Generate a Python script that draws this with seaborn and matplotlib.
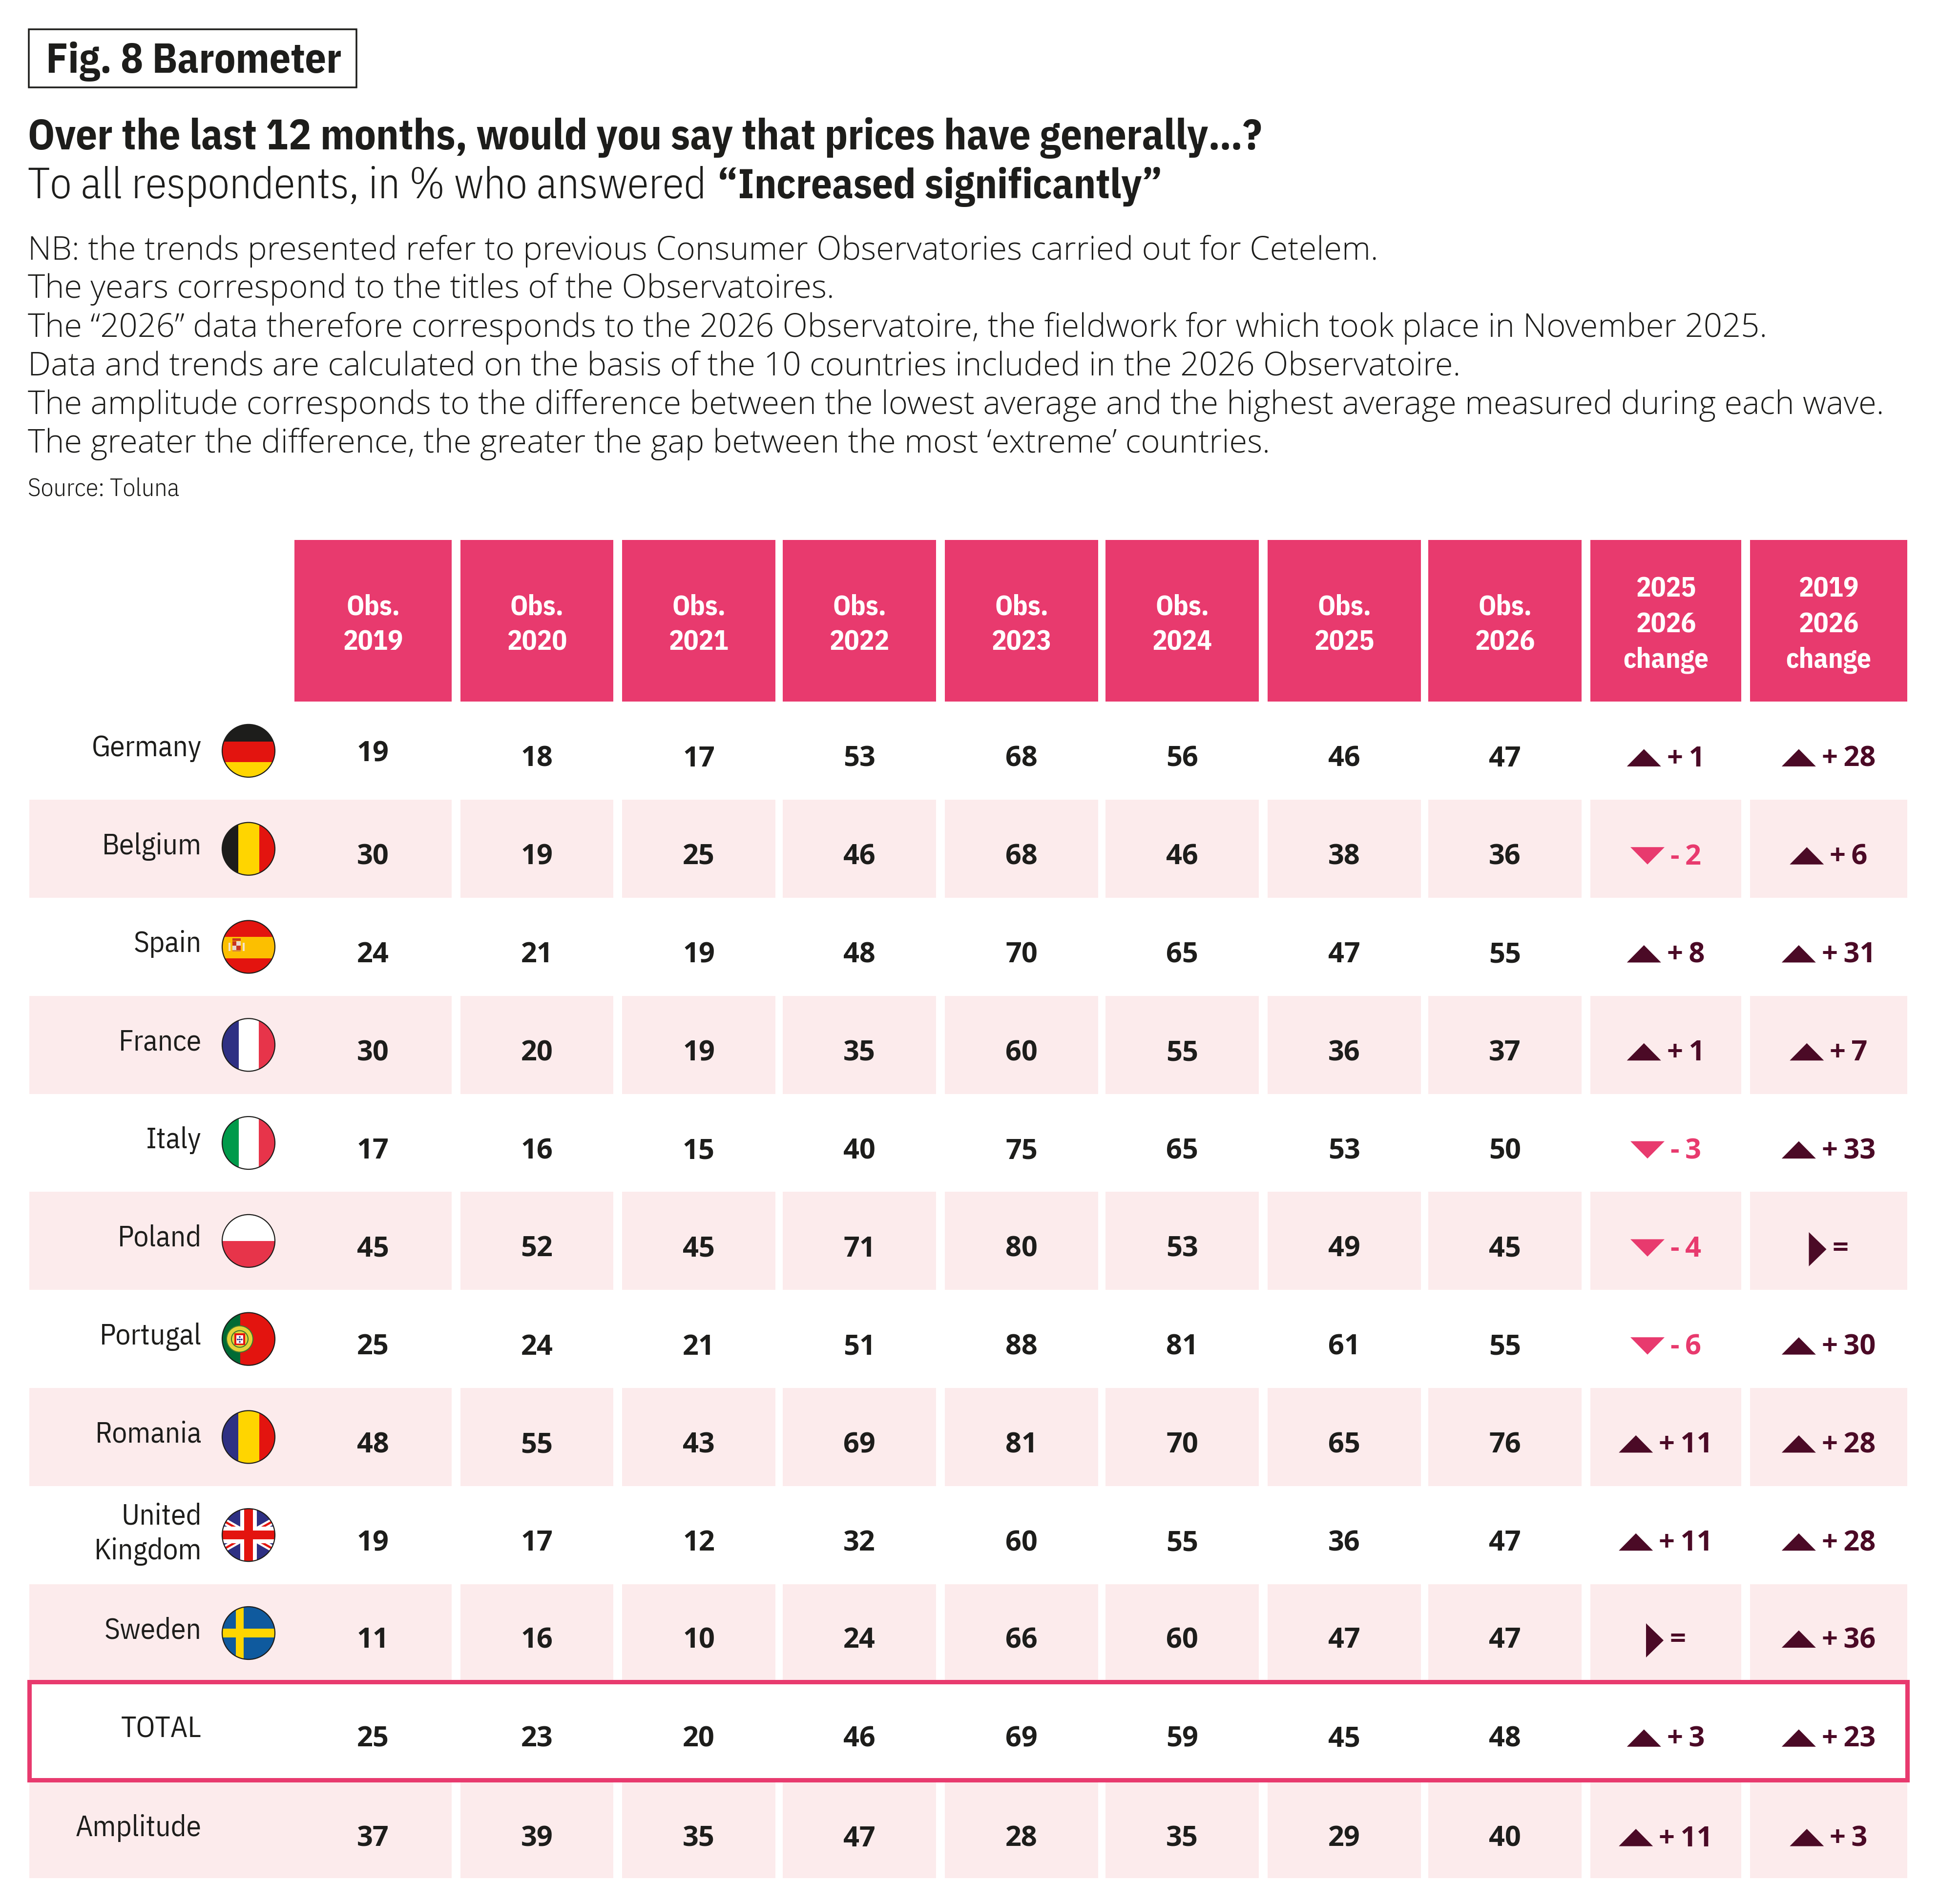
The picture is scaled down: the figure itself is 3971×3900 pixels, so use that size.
import numpy as np
import pandas as pd
import seaborn as sns
import matplotlib
matplotlib.use("Agg")
import matplotlib.pyplot as plt
from matplotlib.colors import ListedColormap
from matplotlib.patches import Circle, Rectangle, Polygon

# ---------- data ----------
countries = ["Germany", "Belgium", "Spain", "France", "Italy", "Poland", "Portugal",
             "Romania", "United\nKingdom", "Sweden", "TOTAL", "Amplitude"]
obs_2019 = [19, 30, 24, 30, 17, 45, 25, 48, 19, 11, 25, 37]
obs_2020 = [18, 19, 21, 20, 16, 52, 24, 55, 17, 16, 23, 39]
obs_2021 = [17, 25, 19, 19, 15, 45, 21, 43, 12, 10, 20, 35]
obs_2022 = [53, 46, 48, 35, 40, 71, 51, 69, 32, 24, 46, 47]
obs_2023 = [68, 68, 70, 60, 75, 80, 88, 81, 60, 66, 69, 28]
obs_2024 = [56, 46, 65, 55, 65, 53, 81, 70, 55, 60, 59, 35]
obs_2025 = [46, 38, 47, 36, 53, 49, 61, 65, 36, 47, 45, 29]
obs_2026 = [47, 36, 55, 37, 50, 45, 55, 76, 47, 47, 48, 40]
change_25_26 = [1, -2, 8, 1, -3, -4, -6, 11, 11, 0, 3, 11]
change_19_26 = [28, 6, 31, 7, 33, 0, 30, 28, 28, 36, 23, 3]
obs_headers = ["Obs.\n2019", "Obs.\n2020", "Obs.\n2021", "Obs.\n2022",
               "Obs.\n2023", "Obs.\n2024", "Obs.\n2025", "Obs.\n2026"]
change_headers = ["2025\n2026\nchange", "2019\n2026\nchange"]
band = [0, 1, 0, 1, 0, 1, 0, 1, 0, 1, 0, 1]

fig_title = "Fig. 8 Barometer"
question = "Over the last 12 months, would you say that prices have generally…?"
sub_light = "To all respondents, in % who answered"
sub_bold = "“Increased significantly”"
notes = [
    "NB: the trends presented refer to previous Consumer Observatories carried out for Cetelem.",
    "The years correspond to the titles of the Observatoires.",
    "The “2026” data therefore corresponds to the 2026 Observatoire, the fieldwork for which took place in November 2025.",
    "Data and trends are calculated on the basis of the 10 countries included in the 2026 Observatoire.",
    "The amplitude corresponds to the difference between the lowest average and the highest average measured during each wave.",
    "The greater the difference, the greater the gap between the most ‘extreme’ countries.",
]
source = "Source: Toluna"

# ---------- layout (pixels) and styles ----------
W, H, DPI = 3971, 3900, 100
COL_EDGES = [(603, 925), (943, 1256), (1274, 1588), (1603, 1917), (1935, 2249),
             (2264, 2578), (2596, 2910), (2925, 3239), (3257, 3566), (3584, 3906)]
HEAD_Y = (1106, 1437.5)
BODY_Y = (1437.5, 3847)
ROW_H = (BODY_Y[1] - BODY_Y[0]) / len(countries)
LABEL_X = (60, 603)
FLAG_X, FLAG_R = 509, 54
INK, PINK, PALE, DARK = "#1d1d1b", "#e83a6e", "#fcebec", "#4b0a26"

sns.set_theme(style="white", rc={"savefig.facecolor": "white", "figure.facecolor": "white"})
plex = "IBM Plex Sans Condensed"
opens = "Open Sans"
plt.rcParams["font.family"] = [opens, "DejaVu Sans"]

fig = plt.figure(figsize=(W / DPI, H / DPI), dpi=DPI)
renderer = fig.canvas.get_renderer()
band_cmap = ListedColormap(["white", PALE])


def add_ax(x0, x1, y0, y1, z=1):
    return fig.add_axes([x0 / W, 1 - y1 / H, (x1 - x0) / W, (y1 - y0) / H], zorder=z)


def row_center(i):
    return BODY_Y[0] + ROW_H * (i + 0.5)


def baseline_offset(i):
    return {9: 30, 11: 35}.get(i, 32)


def heat(ax, annot, fmt, color, size, family, weight, cmap=band_cmap, data=None, **kw):
    frame = pd.DataFrame(np.array(band)[:, None] if data is None else data)
    sns.heatmap(frame, ax=ax, cmap=cmap, vmin=0, vmax=1, cbar=False, annot=annot, fmt=fmt,
                xticklabels=False, yticklabels=False, linewidths=0,
                annot_kws=dict(color=color, fontsize=size, family=[family, "DejaVu Sans"],
                               weight=weight, **kw))
    ax.set_xlabel("")
    ax.set_ylabel("")


# label column
ax = add_ax(*LABEL_X, *BODY_Y)
heat(ax, np.array(countries)[:, None], "", INK, 44, plex, 400)
label_offsets = {8: 50, 10: 13, 11: 14}
for i, t in enumerate(ax.texts):
    t.set_ha("right")
    t.set_multialignment("right")
    t.set_linespacing(1.33)
    t.set_va("baseline")
    t.set_position(((413 - LABEL_X[0]) / (LABEL_X[1] - LABEL_X[0]),
                    i + 0.5 + label_offsets.get(i, 11) / ROW_H))

# headers
for (x0, x1), head in zip(COL_EDGES, obs_headers + change_headers):
    ax = add_ax(x0, x1, *HEAD_Y)
    heat(ax, np.array([[head]]), "", "white", 41, plex, 700,
         cmap=ListedColormap([PINK]), data=[[0]], linespacing=1.40)
    ax.texts[0].set_position((0.5, 0.5 + 8 / (HEAD_Y[1] - HEAD_Y[0])))

# observation columns
obs_columns = [obs_2019, obs_2020, obs_2021, obs_2022, obs_2023, obs_2024, obs_2025, obs_2026]
for c, ((x0, x1), col) in enumerate(zip(COL_EDGES, obs_columns)):
    ax = add_ax(x0, x1, *BODY_Y)
    heat(ax, np.array(col)[:, None], "d", INK, 41.5, opens, 700)
    for i, t in enumerate(ax.texts):
        t.set_va("baseline")
        off = baseline_offset(i) - (10 if (c == 0 and i == 0) else 0)
        t.set_position((0.5, i + 0.5 + off / ROW_H))


def change_text(v):
    if v == 0:
        return "="
    return ("+\u2009" if v > 0 else "-\u2009") + str(abs(v))


# overlay in pixel coordinates
ov = fig.add_axes([0, 0, 1, 1], zorder=5)
ov.set_xlim(0, W)
ov.set_ylim(H, 0)
ov.axis("off")
ov.patch.set_alpha(0)

# change columns
TRI_W, TRI_H, GAP = 70, 35.5, 12
for (x0, x1), col, shift in zip(COL_EDGES[8:], [change_25_26, change_19_26], [0, 0]):
    ax = add_ax(x0, x1, *BODY_Y)
    heat(ax, np.array([change_text(v) for v in col])[:, None], "", DARK, 41.5, opens, 700)
    for i, (t, v) in enumerate(zip(ax.texts, col)):
        t.set_color(PINK if v < 0 else DARK)
        t.set_ha("left")
        t.set_va("baseline")
        base = row_center(i) + baseline_offset(i)
        w = t.get_window_extent(renderer).width
        tw = 36 if v == 0 else TRI_W
        left = (x0 + x1) / 2 + shift - (tw + GAP + w) / 2
        if v > 0:
            pts = [(left, base), (left + tw, base), (left + tw / 2, base - TRI_H)]
        elif v < 0:
            pts = [(left, base - TRI_H), (left + tw, base - TRI_H), (left + tw / 2, base)]
        else:
            cy = base - 15
            pts = [(left, cy - 35), (left, cy + 35), (left + tw, cy)]
        ov.add_patch(Polygon(pts, closed=True, facecolor=PINK if v < 0 else DARK, edgecolor="none"))
        t.set_position(((left + tw + GAP - x0) / (x1 - x0), i + 0.5 + baseline_offset(i) / ROW_H))

# total box
ov.add_patch(Rectangle((60, 3445), 3846, 201, fill=False, edgecolor=PINK, linewidth=9 * 72 / DPI))


# flags
def stripes(cy, spec, vertical=True):
    clip = Circle((FLAG_X, cy), FLAG_R, transform=ov.transData)
    for a, b, col in spec:
        if vertical:
            p = Rectangle((FLAG_X + a, cy - FLAG_R - 1), b - a, 2 * FLAG_R + 2, facecolor=col, edgecolor="none")
        else:
            p = Rectangle((FLAG_X - FLAG_R - 1, cy + a), 2 * FLAG_R + 2, b - a, facecolor=col, edgecolor="none")
        ov.add_patch(p)
        p.set_clip_path(clip)
    return clip


def ring(cy):
    ov.add_patch(Circle((FLAG_X, cy), FLAG_R, fill=False, edgecolor=INK, linewidth=1.6, zorder=4))


def clipped(patch, clip, z=2):
    patch.set_zorder(z)
    ov.add_patch(patch)
    patch.set_clip_path(clip)


RED, YEL, BLU, FRED, GRN = "#e3140f", "#ffd500", "#2e3083", "#e7344a", "#009a4a"
stripes(row_center(0), [(-55, -19, INK), (-19, 23, RED), (23, 55, YEL)], vertical=False)
stripes(row_center(1), [(-55, -21, INK), (-21, 22, YEL), (22, 55, RED)])
cy = row_center(2)
stripes(cy, [(-55, -20, RED), (-20, 24, "#fcbf00"), (24, 55, RED)], vertical=False)
for dx, dy, w, h, col in [(-41, -8, 4, 17, "#f3e3c8"), (-12, -8, 4, 17, "#f3e3c8"),
                          (-33, -17, 17, 5, "#c8341f"), (-33, -11, 8, 9, "#c8341f"),
                          (-25, -11, 9, 9, "#e8d9d0"), (-33, -2, 8, 9, "#e8d9d0"),
                          (-25, -2, 9, 9, "#c8341f"), (-33, 7, 17, 3, "#d78a3a")]:
    ov.add_patch(Rectangle((FLAG_X + dx, cy + dy), w, h, facecolor=col, edgecolor="none", zorder=3))
stripes(row_center(3), [(-55, -20, BLU), (-20, 21, "white"), (21, 55, FRED)])
stripes(row_center(4), [(-55, -20, GRN), (-20, 21, "white"), (21, 55, FRED)])
stripes(row_center(5), [(-55, 0, "white"), (0, 55, FRED)], vertical=False)
cy = row_center(6)
stripes(cy, [(-55, -17, "#006b35"), (-17, 55, RED)])
ov.add_patch(Circle((FLAG_X - 18, cy), 27, facecolor="#e4d33a", edgecolor="#3d7a2e", linewidth=1.5, zorder=3))
ov.add_patch(Circle((FLAG_X - 18, cy), 17, facecolor="#e4d33a", edgecolor="#3d7a2e", linewidth=1.5, zorder=3))
ov.add_patch(Rectangle((FLAG_X - 29, cy - 12), 22, 24, facecolor=RED, edgecolor="none", zorder=3))
ov.add_patch(Rectangle((FLAG_X - 25, cy - 8), 14, 17, facecolor="white", edgecolor="none", zorder=3))
for dx, dy in [(-18, -4), (-22, 1), (-14, 1), (-18, 1), (-18, 6)]:
    ov.add_patch(Circle((FLAG_X + dx, cy + dy), 1.8, facecolor=BLU, edgecolor="none", zorder=3))
stripes(row_center(7), [(-55, -21, BLU), (-21, 22, YEL), (22, 55, RED)])
cy = row_center(8)
clip = stripes(cy, [(-55, 55, BLU)])
for s in (1, -1):
    for lw, col in ((13, "white"), (4.5, RED)):
        ln, = ov.plot([FLAG_X - 60, FLAG_X + 60], [cy - s * 34, cy + s * 34], color=col,
                      linewidth=lw * 72 / DPI, zorder=2, solid_capstyle="butt")
        ln.set_clip_path(clip)
clipped(Rectangle((FLAG_X - 17, cy - 55), 34, 110, facecolor="white", edgecolor="none"), clip, 2.2)
clipped(Rectangle((FLAG_X - 55, cy - 17), 110, 34, facecolor="white", edgecolor="none"), clip, 2.2)
clipped(Rectangle((FLAG_X - 9, cy - 55), 18, 110, facecolor=RED, edgecolor="none"), clip, 2.4)
clipped(Rectangle((FLAG_X - 55, cy - 9), 110, 18, facecolor=RED, edgecolor="none"), clip, 2.4)
cy = row_center(9)
clip = stripes(cy, [(-55, 55, "#0f5a9e")])
clipped(Rectangle((FLAG_X - 26, cy - 55), 16, 110, facecolor=YEL, edgecolor="none"), clip)
clipped(Rectangle((FLAG_X - 55, cy - 9), 110, 18, facecolor=YEL, edgecolor="none"), clip)
for i in range(10):
    ring(row_center(i))


# header texts
def txt(x, y, s, family, weight, size, width=None, color=INK):
    t = ov.text(x, y, s, family=[family, "DejaVu Sans"], weight=weight, fontsize=size, color=color,
                va="baseline", ha="left")
    if width is not None:
        t.set_fontsize(size * width / t.get_window_extent(renderer).width)
    return t


ov.add_patch(Rectangle((59, 60), 671, 119, fill=False, edgecolor=INK, linewidth=3.5 * 72 / DPI))
txt(94, 149, fig_title, plex, 700, 57, width=606)
txt(57, 306, question, plex, 700, 55, width=2529)
txt(57, 406, sub_light, plex, 300, 55, width=1389)
txt(1469, 406, sub_bold, plex, 700, 55, width=911)
probe = txt(57, 530, notes[4], opens, 300, 47, width=3799)
note_size = probe.get_fontsize()
probe.remove()
for s, y in zip(notes, [532, 610, 690, 769, 848, 927]):
    txt(57, y, s, opens, 300, note_size)
txt(57, 1015, source, plex, 300, 36, width=310)

fig.savefig("out.png", dpi=DPI)
